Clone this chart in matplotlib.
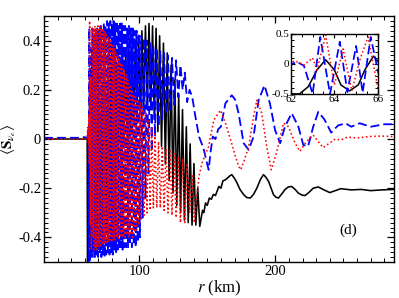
import matplotlib
matplotlib.use("Agg")
import matplotlib.pyplot as plt
from matplotlib.ticker import MultipleLocator, FuncFormatter
import numpy as np

plt.rcParams['font.family'] = ['Liberation Serif', 'DejaVu Serif']
plt.rcParams['mathtext.fontset'] = 'stix'
plt.rcParams['axes.unicode_minus'] = False

# black solid curve: (r, value), extrema in the dense part
black_r = [30, 61.8, 62.0, 62.4, 62.8, 63.2, 63.6, 64.0, 64.3, 64.7, 65.1, 65.4, 65.8, 66.2,
           66.9, 68.0, 69.1, 70.2, 71.3, 72.4, 73.5, 74.6, 75.7, 76.8, 77.9, 79.0, 80.1, 81.2,
           82.3, 83.4, 84.5, 85.6, 86.7, 87.8, 88.9, 90.0, 91.2, 92.4, 93.6, 94.8, 96.0, 97.2,
           98.4, 99.6, 100.8, 102.0, 103.3, 104.6, 105.9, 107.2, 108.5, 109.8, 111.1, 112.4,
           113.7, 115.0, 116.4, 117.8, 119.2, 120.6, 122.0, 123.4, 124.8, 126.2, 127.6, 129.0,
           130.4, 131.8, 133.2, 134.6, 136.0, 137.4, 138.8, 140.2, 141.6, 143.0, 144.5,
           146.5, 147.5, 148.7, 150, 151.5, 153, 154.5, 156, 158.5, 160, 161.5, 163.3, 165,
           166.5, 168, 170, 171.8, 174, 176.7, 179, 181.6, 184, 186.4, 189, 191.3, 193, 195,
           198.6, 200.5, 202.3, 204.5, 207, 209.5, 212, 214.5, 216.9, 219.5, 221.7, 224.5,
           227.8, 231.5, 235, 240, 244, 248, 255.7, 263, 270, 278, 287]
black_v = [0.0, 0.0, -0.5, -0.5, -0.38, -0.1, 0.07, -0.1, -0.35, -0.45, -0.35, -0.1, 0.13, -0.05,
           -0.48, 0.17, -0.47, 0.2, -0.45, 0.23, -0.42, 0.25, -0.38, 0.27, -0.33, 0.29, -0.27, 0.3,
           -0.2, 0.31, -0.14, 0.33, -0.08, 0.34, -0.03, 0.35, 0.0, 0.36, 0.03, 0.38, 0.06, 0.4,
           0.08, 0.42, 0.1, 0.44, 0.12, 0.46, 0.13, 0.47, 0.12, 0.46, 0.08, 0.45,
           0.03, 0.42, -0.03, 0.39, -0.1, 0.35, -0.17, 0.3, -0.22, 0.24, -0.27, 0.18,
           -0.3, 0.12, -0.33, 0.05, -0.34, -0.02, -0.35, -0.1, -0.35, -0.2, -0.355,
           -0.29, -0.3, -0.26, -0.27, -0.24, -0.245, -0.225, -0.23, -0.193, -0.2, -0.17, -0.166, -0.158,
           -0.15, -0.145, -0.16, -0.178, -0.205, -0.226, -0.238, -0.24, -0.225, -0.2, -0.165, -0.145, -0.155, -0.172,
           -0.226, -0.237, -0.24, -0.225, -0.206, -0.195, -0.193, -0.205, -0.22, -0.228, -0.23, -0.218,
           -0.2, -0.195, -0.205, -0.218, -0.21, -0.202, -0.207, -0.205, -0.21, -0.207, -0.205]

# blue dashed curve
blue_r = [30, 55, 60, 62.0, 62.3, 62.6, 63.0, 63.35, 63.8, 64.25, 64.6, 65.0, 65.3, 65.67,
          66.2, 66.8, 67.4, 68.0, 68.6, 69.2, 69.8, 70.4, 71.0, 71.6, 72.2, 72.8, 73.4, 74.0,
          74.6, 75.2, 75.8, 76.4, 77.0, 77.6, 78.2, 78.8, 79.4, 80.0, 80.6, 81.2, 81.8, 82.4,
          83.0, 83.6, 84.2, 84.8, 85.4, 86.0, 86.6, 87.2, 87.8, 88.4, 89.0, 89.7, 90.4, 91.1,
          91.8, 92.5, 93.2, 93.9, 94.6, 95.3, 96.0, 96.7, 97.4, 98.1, 98.9,
          99.7, 100.5, 101.5, 102.5, 103.5, 104.6, 105.7, 106.8, 108.0, 109.2, 110.4, 111.6,
          112.9, 114.2, 115.5, 116.9, 118.3, 119.7, 121.1, 122.6, 124.1, 125.6, 127.1, 128.7,
          130.3, 131.9, 133.5, 135.2, 137.0,
          139, 141, 143.9, 146, 147.5, 149, 151, 152.5, 154, 156, 158, 160, 163.3, 168, 170.5,
          173, 176.7, 180.4, 184, 187.7, 192, 196, 199.8, 203.5, 207, 212, 216.9, 220.5, 224,
          227.8, 231.5, 236, 241, 246, 251.6, 255.7, 262, 270, 280, 287]
blue_v = [0.005, 0.005, 0.008, 0.0, 0.03, -0.03, -0.5, 0.45, -0.5, 0.37, -0.47, 0.3, -0.48, 0.45,
          -0.45, 0.42, -0.48, 0.44, -0.47, 0.45, -0.48, 0.44, -0.47, 0.46, -0.48, 0.45, -0.47, 0.47,
          -0.48, 0.46, -0.47, 0.48, -0.46, 0.47, -0.47, 0.48, -0.46, 0.47, -0.47, 0.48, -0.45, 0.47,
          -0.46, 0.48, -0.45, 0.46, -0.45, 0.47, -0.44, 0.47, -0.45, 0.46, -0.44, 0.46, -0.44, 0.45,
          -0.44, 0.46, -0.43, 0.45, -0.44, 0.45, -0.43, 0.44, -0.44, 0.44, -0.42,
          0.43, -0.4, 0.42, -0.32, 0.41, -0.24, 0.4, -0.14, 0.39, -0.05, 0.38, 0.01,
          0.37, 0.05, 0.36, 0.08, 0.35, 0.1, 0.34, 0.12, 0.33, 0.14, 0.32, 0.17,
          0.3, 0.2, 0.27, 0.15, 0.2,
          0.17, 0.1, 0.01, -0.02, -0.044, -0.08, -0.125, -0.05, 0.01, 0.0, 0.04, 0.05, 0.145, 0.178, 0.16,
          0.105, -0.017, -0.044, 0.01, 0.158, 0.218, 0.145, 0.036, -0.017, 0.05, 0.105, 0.05, -0.024, -0.03,
          0.05, 0.11, 0.08, 0.026, 0.055, 0.064, 0.05, 0.064, 0.05, 0.06, 0.06]

# red dotted curve
red_r = [30, 61.8, 62.2, 62.6, 63.0, 63.2, 63.6, 64.0, 64.4, 64.8, 65.2, 65.55, 66.0, 66.5,
         67.0, 67.5, 68.0, 68.6, 69.2, 69.8, 70.4, 71.0, 71.6, 72.2, 72.8, 73.4, 74.0, 74.6,
         75.2, 75.8, 76.4, 77.0, 77.6, 78.2, 78.8, 79.4, 80.0, 80.6, 81.2, 81.8, 82.4, 83.0,
         83.6, 84.2, 84.8, 85.4, 86.0, 86.6, 87.2, 87.8, 88.4, 89.0, 89.7, 90.4, 91.1, 91.8,
         92.5, 93.2, 93.9, 94.6, 95.3, 96.0, 96.7, 97.4, 98.1, 98.9, 99.7, 100.6, 101.5,
         102.5, 103.5, 104.6, 105.7, 106.8, 108.0, 109.2, 110.4, 111.6, 112.9, 114.2, 115.5,
         116.9, 118.3, 119.7, 121.1, 122.6, 124.1, 125.6, 127.1, 128.7, 130.3, 131.9, 133.5,
         135.2, 137.0, 139, 140.5, 142, 144, 146, 148, 151, 154.8, 159.7, 163.3, 167, 170.6,
         173, 174.5, 177, 180.4, 184, 186.4, 190, 193.6, 197, 200.8, 206, 209.6, 214.5, 218,
         222.7, 227.8, 230, 235, 240, 244, 248, 253, 260, 268, 278, 287]
red_v = [0.0, 0.0, 0.05, -0.02, 0.1, -0.1, 0.48, -0.35, 0.25, -0.45, 0.1, 0.45, -0.4, 0.45,
         -0.45, 0.46, -0.44, 0.45, -0.45, 0.46, -0.44, 0.45, -0.44, 0.46, -0.43, 0.45, -0.43, 0.44,
         -0.42, 0.43, -0.42, 0.42, -0.42, 0.41, -0.41, 0.4, -0.42, 0.38, -0.41, 0.37, -0.41, 0.35,
         -0.4, 0.34, -0.41, 0.33, -0.4, 0.31, -0.4, 0.3, -0.4, 0.28, -0.4, 0.26, -0.39, 0.24,
         -0.4, 0.22, -0.39, 0.2, -0.4, 0.18, -0.38, 0.17, -0.37, 0.16, -0.35, 0.15, -0.33,
         0.13, -0.31, 0.11, -0.3, 0.08, -0.29, 0.05, -0.28, 0.02, -0.28, -0.01, -0.28,
         -0.03, -0.29, -0.04, -0.3, -0.05, -0.31, -0.06, -0.32, -0.07, -0.34, -0.08, -0.34,
         -0.1, -0.3, -0.15, -0.34, -0.25, -0.15, -0.1, -0.07, -0.03, 0.077, 0.117, 0.065, 0.0, -0.07,
         -0.11, -0.125, -0.09, -0.03, 0.09, 0.158, 0.105, -0.03, -0.125, -0.057, 0.065, 0.05, -0.017, -0.05,
         -0.011, 0.016, 0.0, -0.035, -0.016, 0.0, -0.004, 0.008, 0.004, 0.01, 0.012, 0.01]

xticks_main = [100, 200]
yticks_main = [-0.4, -0.2, 0, 0.2, 0.4]
xticks_inset = [62, 64, 66]
yticks_inset = [-0.5, 0, 0.5]


def fmt(v, pos):
    if abs(v) < 1e-9:
        return '0'
    return ('%g' % v)


def style_axes(ax, size, major, minor):
    ax.tick_params(which='both', direction='in', top=True, right=True, labelsize=size, pad=2)
    ax.tick_params(which='major', length=major, width=0.9)
    ax.tick_params(which='minor', length=minor, width=0.7)
    for s in ax.spines.values():
        s.set_linewidth(1.0)


def draw(ax, lw):
    ax.plot(black_r, black_v, color='black', lw=lw, solid_joinstyle='round')
    ax.plot(blue_r, blue_v, color='#0000ff', lw=lw + 0.15, dashes=(5, 2.2))
    ax.plot(red_r, red_v, color='#ff0000', lw=lw, dashes=(1, 1.6))


fig = plt.figure(figsize=(3.99, 2.98), dpi=100)
ax = fig.add_axes([0.110, 0.121, 0.877, 0.825])
draw(ax, 1.15)
ax.set_xlim(30, 287)
ax.set_ylim(-0.5, 0.5)
ax.set_xticks(xticks_main)
ax.set_yticks(yticks_main)
ax.xaxis.set_minor_locator(MultipleLocator(10))
ax.yaxis.set_minor_locator(MultipleLocator(0.02))
ax.yaxis.set_major_formatter(FuncFormatter(fmt))
style_axes(ax, 10.5, 5, 3)
ax.set_xlabel(r'$r$ (km)', fontsize=12, labelpad=1)
ax.set_ylabel(r'$\langle \mathbf{S}_{\nu_e} \rangle$', fontsize=11, labelpad=0)
ax.text(0.87, 0.13, '(d)', transform=ax.transAxes, fontsize=11, ha='center', va='center')

ins = fig.add_axes([0.729, 0.685, 0.218, 0.201])
draw(ins, 1.1)
ins.set_xlim(62, 66)
ins.set_ylim(-0.5, 0.5)
ins.set_xticks(xticks_inset)
ins.set_yticks(yticks_inset)
ins.xaxis.set_minor_locator(MultipleLocator(0.5))
ins.yaxis.set_minor_locator(MultipleLocator(0.1))
ins.yaxis.set_major_formatter(FuncFormatter(fmt))
style_axes(ins, 8, 3, 2)
ins.tick_params(pad=1)

fig.savefig('out.png', dpi=100)
